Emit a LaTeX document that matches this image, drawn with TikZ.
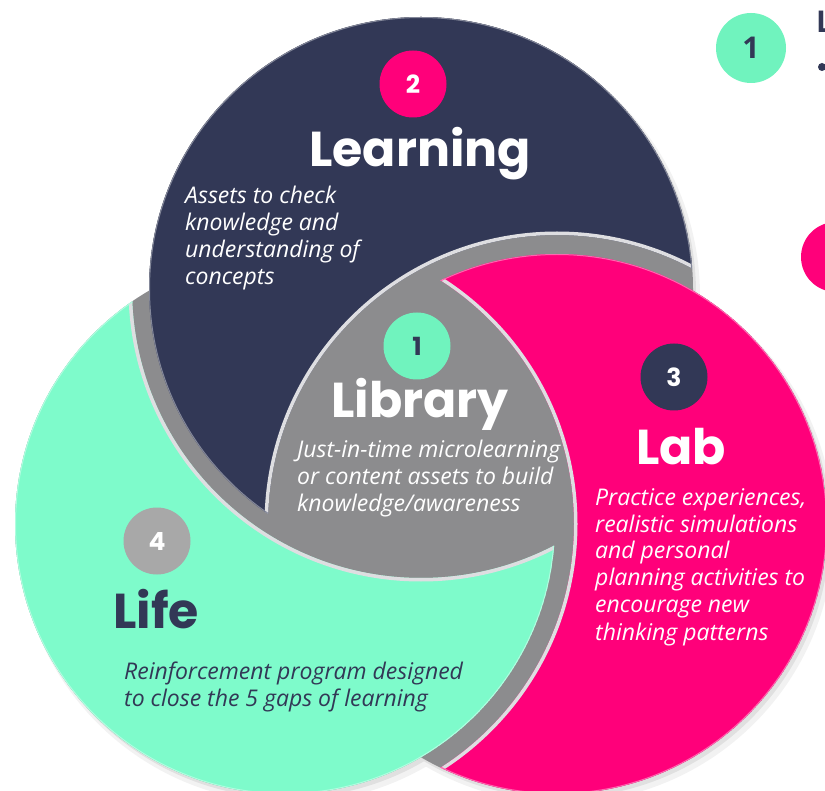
\documentclass[tikz,border=0pt]{standalone}
\usepackage{fontspec}
\setmainfont{Open Sans}
\newfontfamily\hd{Poppins}
\newfontfamily\ds{Open Sans}
\definecolor{navy}{RGB}{50,56,86}
\definecolor{pinkc}{RGB}{255,0,122}
\definecolor{mint}{RGB}{126,251,203}
\definecolor{mintb}{RGB}{112,243,190}
\definecolor{grayc}{RGB}{140,140,142}
\definecolor{rim}{RGB}{222,222,225}
\definecolor{badgegray}{RGB}{168,168,168}
\tikzset{
  desc/.style={anchor=base west, inner sep=0pt, font=\ds\itshape\fontsize{23}{27}\selectfont, text=white},
  head/.style={anchor=base, inner sep=0pt, font=\hd\bfseries\fontsize{49}{49}\selectfont, text=white},
  badge/.style={circle, minimum size=67pt, inner sep=0pt, font=\hd\bfseries\fontsize{25}{25}\selectfont, text=white},
}
\newcommand{\Rn}{272pt}
\newcommand{\Rc}{270pt}
\newcommand{\Rb}{289pt}
\begin{document}
\begin{tikzpicture}[x=1pt,y=-1pt]
\useasboundingbox (0,0) rectangle (825,791);
\fill[white] (0,0) rectangle (825,791);
\coordinate (cN) at (421,289);
\coordinate (cP) at (557,524);
\coordinate (cM) at (285,524);
% soft shadow
\fill[black,opacity=.05] ([shift={(5,7)}]cN) circle[radius=274pt] ([shift={(5,7)}]cP) circle[radius=272pt] ([shift={(5,7)}]cM) circle[radius=272pt];
\fill[black,opacity=.07] ([shift={(3,4)}]cN) circle[radius=\Rn] ([shift={(3,4)}]cP) circle[radius=\Rc] ([shift={(3,4)}]cM) circle[radius=\Rc];
% gray base
\fill[grayc] (cN) circle[radius=\Rn] (cP) circle[radius=\Rc] (cM) circle[radius=\Rc];
% navy shape: N minus (P+g)
\begin{scope}[even odd rule]
  \clip (cN) circle[radius=\Rn];
  \clip (-200,-200) rectangle (1100,1100) (cP) circle[radius=\Rb];
  \fill[navy] (cN) circle[radius=\Rn];
  \draw[rim,line width=7pt] (cP) circle[radius=\Rb];
  \draw[navy!60!white,line width=2pt] (cN) circle[radius=\Rn];
\end{scope}
% pink shape: P minus (M+g)
\begin{scope}[even odd rule]
  \clip (cP) circle[radius=\Rc];
  \clip (-200,-200) rectangle (1100,1100) (cM) circle[radius=\Rb];
  \fill[pinkc] (cP) circle[radius=\Rc];
  \draw[rim,line width=7pt] (cM) circle[radius=\Rb];
  \draw[pinkc!60!white,line width=2pt] (cP) circle[radius=\Rc];
\end{scope}
% mint shape: M minus (N+g)
\begin{scope}[even odd rule]
  \clip (cM) circle[radius=\Rc];
  \clip (-200,-200) rectangle (1100,1100) (cN) circle[radius=\Rb];
  \fill[mint] (cM) circle[radius=\Rc];
  \draw[rim,line width=7pt] (cN) circle[radius=\Rb];
  \draw[mint!60!white,line width=2pt] (cM) circle[radius=\Rc];
\end{scope}
% badges
\node[badge, fill=pinkc] (b2) at (413,84) {2};
\node[badge, fill=mintb, text=navy] (b1) at (417,346) {1};
\node[badge, fill=navy] (b3) at (674,377) {3};
\node[badge, fill=badgegray] (b4) at (157,541) {4};
% headings
\node[head] (learning) at (420,167) {Learning};
\node[head] (library) at (420,418) {Library};
\node[head] (lab) at (681,465) {Lab};
\node[head, text=navy] (life) at (156,628) {Life};
% descriptions
\node[desc] (dlearning) at (185,204) {\begin{tabular}[t]{@{}l@{}}Assets to check\\knowledge and\\understanding of\\concepts\end{tabular}};
\node[desc] (dlibrary) at (297,458) {\begin{tabular}[t]{@{}l@{}}Just-in-time microlearning\\or content assets to build\\knowledge/awareness\end{tabular}};
\node[desc] (dlab) at (595,505) {\begin{tabular}[t]{@{}l@{}}Practice experiences,\\realistic simulations\\and personal\\planning activities to\\encourage new\\thinking patterns\end{tabular}};
\node[desc, text=navy] (dlife) at (124,679) {\begin{tabular}[t]{@{}l@{}}Reinforcement program designed\\to close the 5 gaps of learning\end{tabular}};
% right-side panel fragments
\begin{scope}
  \clip (0,0) rectangle (825,791);
  \node[circle, minimum size=70pt, inner sep=0pt, fill=mintb, text=navy, font=\ds\bfseries\fontsize{30}{30}\selectfont] (t1) at (751,48) {1};
  \node[anchor=base west, inner sep=0pt, text=navy, font=\ds\bfseries\fontsize{30}{30}\selectfont] (tL) at (816,33) {L};
  \fill[navy] (822,67) circle[radius=4pt];
  \node[circle, minimum size=70pt, inner sep=0pt, fill=pinkc] (tp) at (836,257) {};
\end{scope}
\end{tikzpicture}
\end{document}
